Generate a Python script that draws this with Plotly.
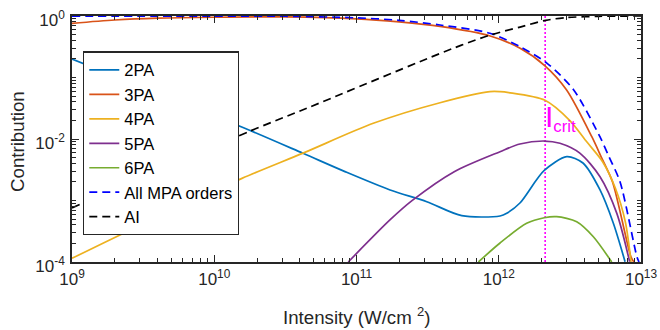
import plotly.graph_objects as go

# ---- data (intensity in W/cm^2, contribution) ----
I_2pa = [1e9, 1.592e10, 4.207e10, 8.299e10, 1.722e11, 3.119e11, 5.495e11, 1.021e12, 1.138e12,
         1.409e12, 2.080e12, 3.006e12, 3.908e12, 5.152e12, 6.383e12, 7.727e12]
C_2pa = [0.20, 0.01538, 0.00585, 0.00295, 0.001483, 0.000955, 0.000566, 0.00056, 0.000619,
         0.00091, 0.003055, 0.00515, 0.00407, 0.001483, 0.00043, 0.000101]

I_3pa = [1e9, 1.995e9, 3.981e9, 1e10, 3.162e10, 1e11, 1.995e11, 3.864e11, 8.71e11, 1.413e12,
         2.113e12, 3.0e12, 4.519e12, 5.248e12, 6.31e12, 8.511e12, 8.913e12]
C_3pa = [0.760, 0.861, 0.923, 0.955, 0.966, 0.900, 0.800, 0.676, 0.473, 0.2985,
         0.155, 0.0627, 0.01079, 0.00513, 0.002, 0.00012, 0.0001]

I_4pa = [1e9, 2.851e9, 1.567e10, 4.207e10, 1.312e11, 3.864e11, 8.67e11, 1.021e12, 1.175e12,
         2.113e12, 3.162e12, 4.169e12, 5.37e12, 6.607e12, 7.762e12, 8.511e12]
C_4pa = [1.148e-4, 3.715e-4, 2.291e-3, 5.888e-3, 0.01799, 0.0389, 0.0589, 0.0589, 0.0569,
         0.0427, 0.01995, 0.00891, 0.00427, 0.00158, 4.47e-4, 1e-4]

I_5pa = [8.75e10, 1.718e11, 2.455e11, 4.864e11, 1.021e12, 1.409e12, 2.089e12, 2.692e12,
         3.715e12, 5.152e12, 6.761e12, 8.318e12]
C_5pa = [1e-4, 4.82e-4, 9.93e-4, 2.944e-3, 6.223e-3, 8.299e-3, 9.268e-3, 8.511e-3,
         5.888e-3, 2.438e-3, 6.166e-4, 1.01e-4]

I_6pa = [7.194e11, 1.021e12, 1.57e12, 2.089e12, 2.553e12, 3.532e12, 4.624e12, 6.223e12]
C_6pa = [1e-4, 2.037e-4, 4.256e-4, 5.248e-4, 5.458e-4, 4.519e-4, 2.576e-4, 1e-4]

I_mpa = [1e9, 1e10, 3.162e10, 1e11, 1.995e11, 3.864e11, 8.67e11, 1.413e12, 2.188e12,
         3.365e12, 5.152e12, 5.957e12, 7.129e12, 9.376e12, 9.683e12]
C_mpa = [0.999, 0.995, 0.99, 0.933, 0.851, 0.714, 0.525, 0.316, 0.170,
         0.0627, 0.0108, 0.00513, 0.002, 0.00012, 0.0001]

I_ai = [1e9, 1.778e10, 4.467e10, 4.786e11, 8.71e11, 1.413e12, 2.138e12, 3.02e12, 5.012e12, 1e13]
C_ai = [7.59e-4, 0.0134, 0.0316, 0.2985, 0.49, 0.661, 0.851, 0.944, 0.989, 1.0]

I_crit = 2.12e12

series = [
    ("2PA", I_2pa, C_2pa, "#0072BD", "solid"),
    ("3PA", I_3pa, C_3pa, "#D95319", "solid"),
    ("4PA", I_4pa, C_4pa, "#EDB120", "solid"),
    ("5PA", I_5pa, C_5pa, "#7E2F8E", "solid"),
    ("6PA", I_6pa, C_6pa, "#77AC30", "solid"),
    ("All MPA orders", I_mpa, C_mpa, "#0000FF", "8px,5px"),
    ("AI", I_ai, C_ai, "#000000", "8px,5px"),
]

x_ticks = [1e9, 1e10, 1e11, 1e12, 1e13]
x_ticktext = ["10<sup>9</sup>", "10<sup>10</sup>", "10<sup>11</sup>", "10<sup>12</sup>", "10<sup>13</sup>"]
y_ticks = [1e-4, 1e-2, 1]
y_ticktext = ["10<sup>-4</sup>", "10<sup>-2</sup>", "10<sup>0</sup>"]

x_minor = [m * 10.0 ** d for d in range(9, 13) for m in range(2, 10)]
y_minor = [m * 10.0 ** d for d in range(-4, 0) for m in range(1, 10)
           if not (m == 1 and d in (-4, -2))]

FONT = "Liberation Sans, Arial, Helvetica, sans-serif"
AX = "#262626"

fig = go.Figure()
fig.add_trace(go.Scatter(x=[I_crit, I_crit], y=[1e-4, 1], mode="lines",
                         line=dict(color="#FF00FF", width=1.6, dash="2px,2px"),
                         showlegend=False, hoverinfo="skip"))
for name, xs, ys, col, dash in series:
    fig.add_trace(go.Scatter(x=xs, y=ys, mode="lines", name=name,
                             line=dict(color=col, width=1.7, dash=dash,
                                       shape="spline", smoothing=0.8)))

fig.add_annotation(x=12.327, y=-1.99, xref="x", yref="y",
                   text="<span style='font-size:30px'>I</span><sub>crit</sub>",
                   showarrow=False, xanchor="left", yanchor="bottom", xshift=-2,
                   font=dict(family=FONT, size=24, color="#FF00FF"))

# axis titles as annotations for exact placement
fig.add_annotation(x=0.5, y=0, xref="paper", yref="paper", text="Intensity (W/cm <sup>2</sup>)",
                   showarrow=False, xanchor="center", yanchor="middle", yshift=-54,
                   font=dict(family=FONT, size=18.7, color=AX))
fig.add_annotation(x=0, y=0.5, xref="paper", yref="paper", text="Contribution",
                   showarrow=False, xanchor="center", yanchor="middle", xshift=-55, yshift=-3,
                   textangle=-90, font=dict(family=FONT, size=18.7, color=AX))

axis_common = dict(type="log", showgrid=False, zeroline=False, showline=True,
                   linecolor=AX, linewidth=1.6, mirror="allticks", automargin=False,
                   ticks="inside", ticklen=7, tickwidth=1, tickcolor=AX,
                   ticklabeloverflow="allow",
                   tickfont=dict(family=FONT, size=17, color=AX))

fig.update_xaxes(**axis_common, range=[9, 13], tickmode="array", tickvals=x_ticks,
                 ticktext=x_ticktext, ticklabelstandoff=1,
                 minor=dict(tickmode="array", tickvals=x_minor, ticks="inside",
                            ticklen=4, tickcolor=AX, tickwidth=1, showgrid=False))
fig.update_yaxes(**axis_common, range=[-4, 0], tickmode="array", tickvals=y_ticks,
                 ticktext=y_ticktext, ticklabelshift=4, ticklabelstandoff=2,
                 minor=dict(tickmode="array", tickvals=y_minor, ticks="inside",
                            ticklen=4, tickcolor=AX, tickwidth=1, showgrid=False))

fig.update_layout(
    width=660, height=330, autosize=False,
    margin=dict(l=72, r=19, t=16, b=68),
    paper_bgcolor="white", plot_bgcolor="white",
    font=dict(family=FONT, color=AX),
    legend=dict(x=0.0193, y=0.856, xanchor="left", yanchor="top",
                bgcolor="white", bordercolor=AX, borderwidth=1.3,
                font=dict(family=FONT, size=16.5, color="#000000"),
                itemwidth=30, tracegroupgap=0),
    showlegend=True,
)

post = """
document.documentElement.style.margin='0';
document.documentElement.style.padding='0';
document.documentElement.style.overflow='hidden';
document.documentElement.style.height='330px';
document.body.style.margin='0';
document.body.style.padding='0';
document.body.style.overflow='hidden';
document.body.style.height='330px';
document.body.style.fontSize='0';
document.body.style.lineHeight='0';
"""

fig.write_html("out.html", config={"displayModeBar": False}, post_script=post)
